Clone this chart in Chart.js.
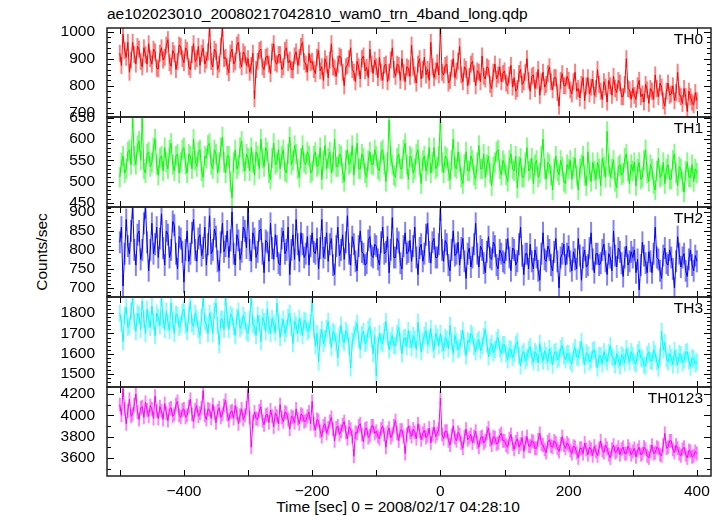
<!DOCTYPE html>
<html>
<head>
<meta charset="utf-8">
<script src="https://cdn.jsdelivr.net/npm/chart.js@4.4.1/dist/chart.umd.min.js"></script>
<style>
  html, body { margin: 0; padding: 0; background: #fff; }
  #wrap { position: relative; width: 723px; height: 516px; overflow: hidden; font-family: "Liberation Sans", Helvetica, Arial, sans-serif; color: #000; }
  #wrap canvas { position: absolute; left: 0; }
  .txt { position: absolute; white-space: nowrap; font-size: 15.5px; line-height: 16px; }
</style>
</head>
<body>
<div id="wrap">
  <div class="txt" style="left:107px; top:6px;">ae102023010_20080217042810_wam0_trn_4band_long.qdp</div>
  <div class="txt" style="left:42px; top:252px; transform: translate(-50%, -50%) rotate(-90deg);">Counts/sec</div>
  <div class="txt" style="left:398px; top:499px; transform: translateX(-50%);">Time [sec] 0 = 2008/02/17 04:28:10</div>
</div>
<script>
/* =========================
   Data (2.5 s bins from -500 s, one row = 100 s)
========================= */
const TH0 = [
  920, 875, 990, 930, 905, 960, 850, 895, 960, 915, 880, 945, 935, 890, 870, 940, 915, 880, 955, 900, 880, 935, 925, 865, 862, 920, 940, 895, 905, 950, 970, 885, 872, 930, 918, 860, 890, 950, 945, 900,
  885, 940, 930, 870, 860, 915, 955, 890, 900, 945, 875, 920, 940, 880, 895, 925, 1012, 890, 870, 935, 925, 860, 880, 945, 1012, 900, 905, 870, 848, 920, 935, 880, 890, 950, 960, 895, 870, 925, 915, 875,
  900, 850, 875, 920, 752, 860, 890, 930, 935, 870, 860, 905, 910, 880, 845, 925, 955, 885, 880, 915, 915, 860, 870, 930, 940, 885, 895, 860, 858, 910, 925, 875, 905, 945, 960, 890, 880, 850, 920, 885,
  890, 860, 845, 905, 930, 855, 870, 820, 900, 880, 830, 895, 955, 870, 865, 835, 880, 910, 905, 850, 800, 870, 875, 900, 940, 860, 850, 815, 890, 870, 825, 900, 910, 855, 868, 830, 935, 880, 845, 895,
  870, 830, 905, 850, 820, 875, 880, 815, 850, 895, 940, 860, 835, 880, 875, 820, 900, 850, 815, 870, 865, 835, 950, 870, 840, 810, 880, 900, 825, 860, 905, 840, 860, 820, 960, 870, 830, 855, 885, 840,
  1012, 850, 840, 875, 880, 810, 820, 865, 900, 830, 855, 890, 945, 840, 815, 870, 860, 800, 835, 880, 890, 845, 800, 855, 850, 815, 910, 835, 825, 870, 865, 805, 790, 850, 880, 825, 840, 870, 815, 845,
  855, 810, 800, 840, 875, 795, 830, 780, 790, 845, 860, 805, 815, 850, 900, 820, 780, 835, 840, 790, 820, 860, 765, 815, 850, 795, 805, 845, 870, 815, 785, 830, 830, 775, 725, 820, 845, 800, 800, 835,
  820, 785, 770, 815, 850, 780, 790, 755, 805, 830, 745, 800, 830, 770, 795, 825, 765, 790, 860, 805, 780, 750, 815, 795, 740, 820, 800, 765, 835, 790, 775, 820, 810, 760, 760, 805, 900, 790, 785, 750,
  790, 765, 750, 800, 820, 760, 770, 740, 805, 785, 735, 790, 780, 750, 840, 790, 760, 810, 795, 745, 725, 780, 810, 765, 770, 800, 745, 775, 850, 770, 760, 735, 790, 760, 705, 780, 760, 740, 730, 775,
  745
];

const TH1 = [
  510, 545, 560, 520, 530, 570, 575, 540, 650, 560, 540, 585, 595, 550, 650, 530, 520, 565, 570, 535, 545, 580, 600, 540, 515, 555, 560, 525, 580, 545, 530, 575, 590, 540, 525, 560, 565, 520, 545, 575,
  580, 540, 520, 565, 560, 530, 600, 550, 535, 570, 575, 525, 510, 560, 555, 585, 590, 540, 530, 575, 565, 520, 545, 580, 605, 545, 520, 560, 560, 500, 462, 545, 575, 530, 540, 580, 595, 545, 525, 565,
  555, 525, 580, 545, 515, 570, 560, 530, 600, 555, 535, 580, 570, 520, 505, 555, 590, 540, 545, 575, 530, 560, 575, 525, 520, 565, 605, 540, 550, 585, 565, 530, 510, 555, 585, 545, 540, 570, 560, 520,
  525, 560, 570, 535, 540, 580, 505, 550, 585, 530, 555, 570, 520, 545, 600, 535, 535, 565, 560, 520, 500, 550, 575, 540, 545, 585, 515, 555, 590, 530, 530, 565, 555, 520, 510, 550, 570, 540, 540, 575,
  560, 530, 525, 570, 575, 540, 500, 545, 645, 560, 540, 515, 510, 555, 565, 530, 530, 575, 590, 540, 505, 560, 555, 520, 530, 565, 575, 535, 495, 550, 560, 525, 540, 580, 520, 545, 580, 530, 535, 560,
  648, 545, 520, 560, 555, 525, 505, 550, 600, 535, 530, 570, 545, 510, 495, 540, 570, 525, 525, 560, 550, 515, 505, 545, 585, 530, 530, 565, 510, 540, 560, 520, 490, 535, 545, 570, 575, 530, 515, 550,
  540, 515, 500, 550, 565, 530, 525, 560, 485, 535, 555, 510, 510, 545, 580, 525, 530, 555, 495, 540, 550, 510, 520, 560, 600, 530, 505, 545, 540, 515, 480, 530, 560, 525, 515, 550, 535, 500, 495, 540,
  530, 550, 505, 535, 555, 515, 480, 530, 540, 560, 515, 490, 570, 525, 500, 545, 525, 505, 545, 530, 490, 555, 535, 510, 618, 540, 510, 530, 550, 500, 485, 535, 540, 515, 520, 555, 565, 525, 495, 540,
  525, 545, 490, 530, 545, 505, 510, 550, 575, 520, 500, 540, 530, 495, 480, 525, 555, 510, 515, 545, 495, 530, 540, 505, 505, 550, 565, 520, 490, 535, 530, 500, 475, 525, 545, 510, 510, 540, 500, 530,
  520
];

const TH2 = [
  820, 860, 705, 790, 880, 810, 790, 850, 911, 800, 760, 840, 850, 775, 800, 870, 911, 820, 745, 800, 870, 790, 815, 860, 780, 830, 895, 805, 760, 850, 840, 780, 800, 875, 865, 790, 750, 835, 830, 795,
  715, 800, 850, 770, 790, 845, 880, 800, 770, 830, 840, 785, 805, 860, 760, 815, 890, 790, 800, 855, 835, 770, 745, 820, 870, 795, 810, 850, 780, 825, 900, 790, 760, 840, 825, 775, 795, 860, 850, 805,
  912, 800, 770, 845, 830, 780, 795, 850, 855, 790, 740, 825, 820, 770, 870, 805, 775, 840, 810, 765, 760, 830, 850, 790, 800, 860, 735, 800, 840, 775, 880, 815, 770, 845, 815, 780, 790, 835, 760, 810,
  845, 795, 790, 830, 750, 805, 880, 780, 805, 845, 770, 815, 830, 760, 735, 810, 860, 785, 800, 840, 775, 820, 890, 790, 760, 835, 815, 770, 745, 810, 850, 795, 790, 760, 765, 825, 835, 785, 780, 815,
  810, 775, 760, 820, 860, 790, 795, 835, 740, 800, 885, 780, 780, 830, 820, 765, 750, 810, 845, 790, 795, 825, 770, 810, 860, 780, 735, 805, 815, 770, 790, 840, 870, 795, 765, 820, 830, 780, 780, 815,
  905, 800, 770, 825, 815, 760, 745, 800, 850, 785, 790, 820, 760, 805, 830, 770, 725, 790, 805, 755, 780, 815, 870, 790, 755, 810, 800, 765, 740, 795, 835, 780, 775, 820, 810, 760, 750, 800, 790, 770,
  765, 800, 830, 780, 745, 805, 800, 760, 770, 815, 860, 785, 735, 790, 790, 750, 815, 770, 750, 800, 780, 745, 720, 790, 845, 775, 770, 810, 800, 760, 745, 795, 830, 770, 700, 780, 790, 815, 760, 790,
  810, 770, 745, 795, 775, 750, 830, 785, 720, 780, 800, 755, 760, 805, 845, 775, 740, 790, 790, 760, 765, 800, 815, 770, 735, 790, 780, 745, 850, 785, 755, 805, 795, 765, 730, 780, 810, 760, 770, 795,
  780, 800, 740, 775, 695, 760, 820, 785, 765, 740, 795, 770, 740, 790, 860, 780, 775, 745, 725, 785, 805, 765, 760, 800, 780, 750, 700, 770, 835, 790, 755, 780, 790, 745, 730, 775, 800, 760, 745, 785,
  770
];

const TH3 = [
  1800, 1750, 1660, 1790, 1830, 1730, 1740, 1810, 1880, 1760, 1710, 1800, 1790, 1720, 1860, 1770, 1700, 1820, 1770, 1730, 1835, 1760, 1690, 1800, 1780, 1740, 1880, 1770, 1720, 1810, 1755, 1715, 1850, 1765, 1700, 1795, 1790, 1730, 1745, 1805,
  1820, 1740, 1710, 1790, 1860, 1750, 1735, 1800, 1775, 1720, 1690, 1780, 1880, 1760, 1745, 1700, 1800, 1765, 1700, 1815, 1850, 1740, 1645, 1770, 1770, 1720, 1880, 1775, 1720, 1795, 1785, 1735, 1690, 1780, 1810, 1725, 1740, 1790, 1765, 1710,
  1700, 1770, 1880, 1745, 1735, 1690, 1790, 1750, 1660, 1780, 1760, 1710, 1820, 1740, 1700, 1775, 1745, 1705, 1850, 1760, 1680, 1735, 1770, 1700, 1725, 1780, 1800, 1730, 1650, 1760, 1740, 1700, 1775, 1735, 1690, 1765, 1760, 1710, 1720, 1755,
  1865, 1720, 1640, 1700, 1560, 1680, 1720, 1650, 1675, 1725, 1760, 1690, 1630, 1710, 1700, 1655, 1580, 1690, 1740, 1670, 1655, 1715, 1700, 1640, 1530, 1660, 1690, 1720, 1750, 1670, 1620, 1695, 1710, 1650, 1660, 1720, 1735, 1675, 1600, 1690,
  1490, 1640, 1700, 1660, 1650, 1710, 1760, 1680, 1620, 1665, 1690, 1640, 1640, 1700, 1730, 1660, 1600, 1675, 1680, 1635, 1715, 1670, 1630, 1690, 1670, 1620, 1755, 1680, 1610, 1660, 1690, 1715, 1645, 1675, 1725, 1650, 1620, 1700, 1680, 1640,
  1700, 1650, 1615, 1680, 1670, 1625, 1740, 1660, 1600, 1690, 1660, 1620, 1630, 1675, 1715, 1640, 1590, 1665, 1655, 1700, 1690, 1635, 1610, 1660, 1670, 1615, 1640, 1685, 1720, 1650, 1585, 1630, 1650, 1605, 1620, 1665, 1680, 1625, 1600, 1645,
  1645, 1600, 1570, 1625, 1620, 1580, 1600, 1645, 1660, 1590, 1540, 1600, 1610, 1565, 1580, 1620, 1635, 1585, 1560, 1610, 1600, 1555, 1650, 1595, 1565, 1615, 1590, 1560, 1625, 1590, 1545, 1605, 1610, 1570, 1580, 1625, 1640, 1590, 1570, 1600,
  1600, 1565, 1550, 1610, 1630, 1585, 1580, 1620, 1660, 1590, 1545, 1605, 1595, 1560, 1570, 1615, 1620, 1575, 1530, 1590, 1590, 1550, 1610, 1580, 1560, 1605, 1640, 1585, 1575, 1545, 1600, 1570, 1540, 1595, 1585, 1555, 1625, 1590, 1560, 1610,
  1590, 1560, 1550, 1605, 1620, 1580, 1575, 1545, 1540, 1595, 1610, 1565, 1565, 1620, 1600, 1560, 1530, 1585, 1710, 1620, 1655, 1575, 1560, 1600, 1580, 1545, 1615, 1580, 1545, 1600, 1595, 1555, 1570, 1605, 1610, 1565, 1535, 1580, 1575, 1550,
  1560
];

const TH0123 = [
  4100, 4000, 4250, 4060, 3920, 4040, 4150, 3990, 4010, 4100, 4200, 4030, 3960, 4070, 4080, 3980, 4120, 4050, 3990, 4090, 4060, 3970, 4180, 4040, 3970, 4080, 4040, 3960, 4110, 4020, 3950, 4060, 4070, 3990, 4010, 4100, 4130, 4000, 3980, 4050,
  4060, 3980, 4000, 4080, 4150, 4010, 3940, 4050, 4090, 3990, 4020, 4070, 4230, 4000, 3960, 4060, 4050, 3970, 4100, 4020, 3930, 4040, 4070, 3980, 4010, 4090, 4140, 4010, 3950, 4030, 4040, 3970, 4090, 4020, 3920, 4000, 4060, 3960, 4000, 4070,
  4240, 3980, 3700, 3940, 4030, 3970, 3960, 4040, 4080, 3950, 3910, 4000, 4010, 3930, 4050, 3990, 3890, 4020, 3990, 3920, 4100, 3980, 3940, 4030, 4020, 3960, 3870, 3990, 3980, 3930, 4060, 3970, 3920, 4010, 4000, 3940, 3950, 3990, 4030, 3920,
  4130, 3920, 3860, 3960, 3950, 3850, 3800, 3900, 3920, 3830, 3880, 3940, 3980, 3870, 3760, 3880, 3900, 3820, 3850, 3910, 3940, 3840, 3780, 3890, 3870, 3800, 3615, 3840, 3830, 3900, 3920, 3820, 3750, 3870, 3880, 3790, 3810, 3900, 3900, 3830,
  3850, 3800, 3780, 3870, 3900, 3820, 3700, 3840, 3880, 3790, 3820, 3900, 3950, 3830, 3760, 3860, 3860, 3800, 3640, 3820, 3900, 3840, 3800, 3870, 3840, 3780, 3920, 3850, 3770, 3830, 3860, 3790, 3810, 3880, 3740, 3820, 3890, 3800, 3830, 3870,
  4160, 3820, 3780, 3850, 3850, 3760, 3720, 3810, 3900, 3790, 3760, 3840, 3820, 3740, 3690, 3800, 3870, 3770, 3790, 3820, 3740, 3800, 3850, 3750, 3700, 3790, 3800, 3740, 3760, 3830, 3880, 3770, 3720, 3800, 3790, 3730, 3740, 3810, 3830, 3760,
  3760, 3720, 3700, 3780, 3820, 3730, 3680, 3750, 3780, 3700, 3730, 3790, 3660, 3740, 3800, 3710, 3710, 3760, 3750, 3690, 3690, 3770, 3830, 3730, 3720, 3680, 3650, 3750, 3770, 3710, 3700, 3760, 3740, 3690, 3660, 3730, 3800, 3720, 3690, 3740,
  3720, 3670, 3640, 3710, 3700, 3650, 3600, 3690, 3690, 3640, 3740, 3680, 3630, 3700, 3680, 3620, 3710, 3660, 3620, 3690, 3760, 3670, 3650, 3720, 3690, 3630, 3600, 3680, 3720, 3650, 3660, 3700, 3630, 3680, 3700, 3640, 3640, 3710, 3680, 3630,
  3660, 3690, 3610, 3670, 3700, 3630, 3640, 3700, 3680, 3620, 3600, 3660, 3720, 3640, 3650, 3700, 3690, 3630, 3620, 3720, 3830, 3690, 3700, 3760, 3760, 3680, 3650, 3720, 3690, 3640, 3620, 3680, 3700, 3630, 3600, 3670, 3660, 3610, 3620, 3660,
  3640
];

/* half length of the light error bars, read per band */
const ERRORS = [30, 23, 28, 41, 62];

const T_START = -500, T_BIN = 2.5;
const TIME = TH0.map((v, k) => T_START + T_BIN * k);

const SERIES = [TH0, TH1, TH2, TH3, TH0123];
const PANEL_NAMES = ["TH0", "TH1", "TH2", "TH3", "TH0123"];

/* axis ranges and ticks */
const X_MIN = -520, X_MAX = 422;
const X_TICKS = [-500, -400, -300, -200, -100, 0, 100, 200, 300, 400];
const X_LABELED = [-400, -200, 0, 200, 400];
const Y_MIN = [685, 440, 676, 1436, 3430];
const Y_MAX = [1013, 652, 913, 1880, 4265];
const Y_TICKS = [
  [700, 800, 900, 1000],
  [450, 500, 550, 600, 650],
  [700, 750, 800, 850, 900],
  [1500, 1600, 1700, 1800],
  [3600, 3800, 4000, 4200]
];
const Y_MINOR = [20, 10, 10, 20, 100];

/* =========================
   Layout / style
========================= */
const COLORS = ["#ff0000", "#00ff00", "#0000ff", "#00ffff", "#ff00ff"];
const LIGHT = ["rgba(255,0,0,0.5)", "rgba(0,255,0,0.5)", "rgba(0,0,255,0.5)", "rgba(0,255,255,0.5)", "rgba(255,0,255,0.5)"];
const PANEL_TOP = [28, 117, 207, 297, 387];
const PANEL_BOTTOM = [117, 207, 297, 387, 476];
const PAD = 12;
const FONT = "Liberation Sans, Helvetica, Arial, sans-serif";

function minusLabel(v) {
  return v < 0 ? "\u2212" + Math.abs(v) : String(v);
}

/* frame, inward ticks and the panel name, drawn like qdp does */
const qdpFrame = {
  id: "qdpFrame",
  afterDatasetsDraw(chart, args, opts) {
    const { ctx, chartArea: a, scales: { x, y } } = chart;
    ctx.save();
    ctx.strokeStyle = "#000";
    ctx.lineWidth = 1;
    ctx.beginPath();
    X_TICKS.forEach(v => {
      const px = Math.round(x.getPixelForValue(v)) + 0.5;
      ctx.moveTo(px, a.top); ctx.lineTo(px, a.top + 6);
      ctx.moveTo(px, a.bottom); ctx.lineTo(px, a.bottom - 6);
    });
    const start = Math.ceil(opts.min / opts.minor) * opts.minor;
    for (let v = start; v <= opts.max; v += opts.minor) {
      const py = Math.round(y.getPixelForValue(v)) + 0.5;
      const len = opts.major.includes(v) ? 7 : 4;
      ctx.moveTo(a.left, py); ctx.lineTo(a.left + len, py);
      ctx.moveTo(a.right, py); ctx.lineTo(a.right - len, py);
    }
    ctx.stroke();
    ctx.strokeStyle = "#222";
    ctx.lineWidth = 1.5;
    ctx.strokeRect(a.left, a.top, a.right - a.left, a.bottom - a.top);
    ctx.fillStyle = "#000";
    ctx.font = "15.5px " + FONT;
    ctx.textAlign = "right";
    ctx.textBaseline = "middle";
    ctx.fillText(opts.label, a.right - 8, a.top + 12);
    ctx.restore();
  }
};

function makePanel(i) {
  const last = i === SERIES.length - 1;
  const top = PANEL_TOP[i] - PAD;
  const height = last ? 516 - top : PANEL_BOTTOM[i] - PANEL_TOP[i] + 2 * PAD;
  const canvas = document.createElement("canvas");
  canvas.width = 723;
  canvas.height = height;
  canvas.style.top = top + "px";
  document.getElementById("wrap").appendChild(canvas);

  const values = SERIES[i];
  const err = ERRORS[i];
  const points = TIME.map((t, k) => ({ x: t, y: values[k] }));
  const bars = TIME.map((t, k) => ({ x: t, y: [values[k] - err, values[k] + err] }));

  new Chart(canvas, {
    type: "line",
    data: {
      datasets: [
        {
          type: "bar",
          data: bars,
          backgroundColor: LIGHT[i],
          borderWidth: 0,
          barThickness: 1.3,
          order: 2
        },
        {
          type: "line",
          data: points,
          borderColor: COLORS[i],
          borderWidth: 1,
          pointRadius: 0,
          tension: 0,
          order: 1
        }
      ]
    },
    options: {
      responsive: false,
      animation: false,
      events: [],
      layout: { padding: { left: 0, right: 12, top: PAD, bottom: last ? 0 : PAD } },
      plugins: {
        legend: { display: false },
        tooltip: { enabled: false },
        qdpFrame: { label: PANEL_NAMES[i], min: Y_MIN[i], max: Y_MAX[i], major: Y_TICKS[i], minor: Y_MINOR[i] }
      },
      scales: {
        x: {
          type: "linear",
          min: X_MIN,
          max: X_MAX,
          offset: false,
          display: last,
          grid: { display: false, drawTicks: false, offset: false },
          border: { display: false },
          afterFit(scale) {
            if (last) scale.height = 40;
            scale.paddingLeft = 0;
            scale.paddingRight = 0;
          },
          afterBuildTicks(scale) { scale.ticks = X_LABELED.map(v => ({ value: v })); },
          ticks: {
            autoSkip: false,
            maxRotation: 0,
            padding: 6,
            color: "#000",
            font: { family: FONT, size: 15.5 },
            callback: v => minusLabel(v)
          }
        },
        y: {
          min: Y_MIN[i],
          max: Y_MAX[i],
          grid: { display: false, drawTicks: false },
          border: { display: false },
          afterFit(scale) {
            scale.width = 107;
            scale.paddingTop = 0;
            scale.paddingBottom = 0;
          },
          afterBuildTicks(scale) { scale.ticks = Y_TICKS[i].map(v => ({ value: v })); },
          ticks: {
            autoSkip: false,
            padding: 12,
            color: "#000",
            font: { family: FONT, size: 15.5 },
            callback: v => String(v)
          }
        }
      }
    },
    plugins: [qdpFrame]
  });
}

SERIES.forEach((s, i) => makePanel(i));
</script>
</body>
</html>
